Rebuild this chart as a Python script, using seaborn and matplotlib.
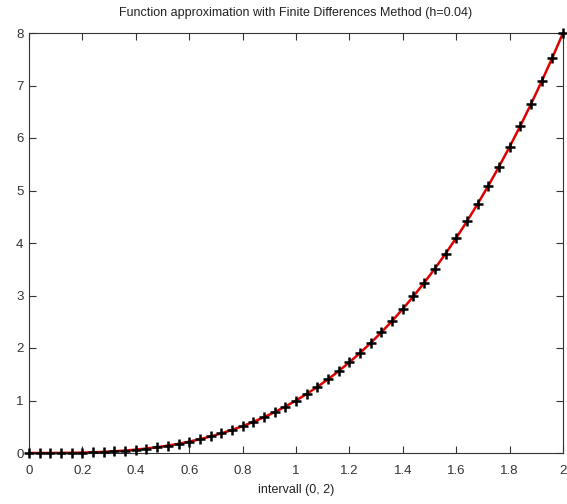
import matplotlib
matplotlib.use("Agg")
import matplotlib.pyplot as plt
import seaborn as sns
import pandas as pd

x_vals = [0.00, 0.04, 0.08, 0.12, 0.16, 0.20, 0.24, 0.28, 0.32, 0.36,
          0.40, 0.44, 0.48, 0.52, 0.56, 0.60, 0.64, 0.68, 0.72, 0.76,
          0.80, 0.84, 0.88, 0.92, 0.96, 1.00, 1.04, 1.08, 1.12, 1.16,
          1.20, 1.24, 1.28, 1.32, 1.36, 1.40, 1.44, 1.48, 1.52, 1.56,
          1.60, 1.64, 1.68, 1.72, 1.76, 1.80, 1.84, 1.88, 1.92, 1.96, 2.00]
y_vals = [0.0, 0.0001, 0.0005, 0.0017, 0.0041, 0.008, 0.0138, 0.022, 0.0328, 0.0467,
          0.064, 0.0852, 0.1106, 0.1406, 0.1756, 0.216, 0.2621, 0.3144, 0.3732, 0.439,
          0.512, 0.5927, 0.6815, 0.7787, 0.8847, 1.0, 1.1249, 1.2597, 1.4049, 1.5609,
          1.728, 1.9066, 2.0972, 2.3, 2.5155, 2.744, 2.986, 3.2418, 3.5118, 3.7964,
          4.096, 4.4109, 4.7416, 5.0884, 5.4518, 5.832, 6.2295, 6.6447, 7.0779, 7.5295, 8.0]
x_ticks = [0, 0.2, 0.4, 0.6, 0.8, 1, 1.2, 1.4, 1.6, 1.8, 2]
x_tick_labels = ["0", "0.2", "0.4", "0.6", "0.8", "1", "1.2", "1.4", "1.6", "1.8", "2"]
y_ticks = [0, 1, 2, 3, 4, 5, 6, 7, 8]
y_tick_labels = ["0", "1", "2", "3", "4", "5", "6", "7", "8"]

df = pd.DataFrame({"x": x_vals, "y": y_vals})

sns.set_theme(style="white")
plt.rcParams["font.family"] = ["Liberation Sans", "DejaVu Sans"]

fig = plt.figure(figsize=(5.67, 5.04), dpi=100)
ax = fig.add_axes([29/567, 51/504, 534/567, 420/504])

sns.lineplot(data=df, x="x", y="y", color="#e00000", linewidth=1.8, ax=ax, zorder=2)
ax.scatter(df["x"], df["y"], marker="+", s=50, color="black", linewidths=1.8, zorder=3, clip_on=False)

ax.set_xlim(0, 2)
ax.set_ylim(0, 8)
ax.set_xticks(x_ticks)
ax.set_xticklabels(x_tick_labels)
ax.set_yticks(y_ticks)
ax.set_yticklabels(y_tick_labels)
ax.tick_params(axis="x", pad=9)
ax.tick_params(axis="y", pad=4)
ax.set_xlabel("intervall (0, 2)", fontsize=9, labelpad=5, color="#222222")
ax.set_ylabel("")
ax.set_title("Function approximation with Finite Differences Method (h=0.04)", fontsize=9, pad=12, color="#222222")

ax.tick_params(axis="both", which="both", direction="in", length=5, width=0.8,
               top=True, right=True, bottom=True, left=True, labelsize=9.5, colors="#333333")
for s in ax.spines.values():
    s.set_color("#333333")
    s.set_linewidth(0.8)
    s.set_visible(True)

fig.savefig("out.png", dpi=100)
